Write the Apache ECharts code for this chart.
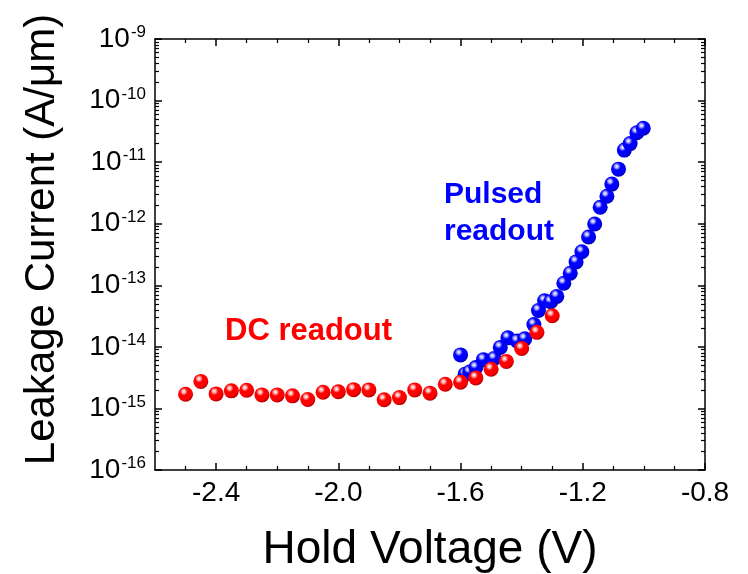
<!DOCTYPE html>
<html><head><meta charset="utf-8">
<script src="https://cdn.jsdelivr.net/npm/echarts@6/dist/echarts.min.js"></script>
<style>html,body{margin:0;padding:0;background:#fff}#c{width:748px;height:574px}</style>
</head><body><div id="c"></div>
<script>
// ---- data ----
const xMajorTicks = [-2.4, -2.0, -1.6, -1.2, -0.8];
const xMinorTicks = [-2.5, -2.3, -2.2, -2.1, -1.9, -1.8, -1.7, -1.5, -1.4, -1.3, -1.1, -1.0, -0.9];
const yDecades = [1e-16, 1e-15, 1e-14, 1e-13, 1e-12, 1e-11, 1e-10, 1e-9];
const yMinorMultipliers = [2, 3, 4, 5, 6, 7, 8, 9];

const dcX = [-2.50, -2.45, -2.40, -2.35, -2.30, -2.25, -2.20, -2.15, -2.10, -2.05, -2.00, -1.95, -1.90,
             -1.85, -1.80, -1.75, -1.70, -1.65, -1.60, -1.55, -1.50, -1.45, -1.40, -1.35, -1.30];
const dcY = [1.7e-15, 2.75e-15, 1.72e-15, 1.93e-15, 1.97e-15, 1.66e-15, 1.66e-15, 1.6e-15, 1.4e-15, 1.83e-15,
             1.87e-15, 2.02e-15, 2.0e-15, 1.38e-15, 1.5e-15, 2.0e-15, 1.77e-15, 2.47e-15, 2.66e-15, 3.13e-15,
             4.33e-15, 5.8e-15, 9.4e-15, 1.72e-14, 3.2e-14];

const pulsedX = [-1.600, -1.585, -1.570, -1.550, -1.525, -1.490, -1.470, -1.445, -1.415, -1.390,
                 -1.360, -1.345, -1.325, -1.305, -1.285, -1.262, -1.241, -1.222, -1.203, -1.181,
                 -1.161, -1.143, -1.121, -1.105, -1.083, -1.064, -1.045, -1.023, -1.002];
const pulsedY = [7.4e-15, 3.6e-15, 3.9e-15, 4.6e-15, 6.2e-15, 6.5e-15, 9.8e-15, 1.4e-14, 1.25e-14, 1.35e-14,
                 2.3e-14, 3.9e-14, 5.6e-14, 5.4e-14, 6.6e-14, 1.08e-13, 1.57e-13, 2.4e-13, 3.5e-13, 6.1e-13,
                 9.9e-13, 1.85e-12, 2.8e-12, 4.4e-12, 7.7e-12, 1.57e-11, 2.0e-11, 3.0e-11, 3.55e-11];

const xTitle = 'Hold Voltage (V)';
const yTitle = 'Leakage Current (A/\u03BCm)';
const pulsedLabel = 'Pulsed\nreadout';
const dcLabel = 'DC readout';

// ---- chart ----
const FONT = '"Liberation Sans", Arial, sans-serif';
const yMinorTicks = [];
yDecades.slice(0, -1).forEach(d => yMinorMultipliers.forEach(m => yMinorTicks.push(m * d)));

function sphere(base, light, dark) {
  return {
    type: 'radial', x: 0.38, y: 0.32, r: 0.68,
    colorStops: [
      { offset: 0, color: '#ffffff' },
      { offset: 0.16, color: light },
      { offset: 0.38, color: base },
      { offset: 0.8, color: base },
      { offset: 1, color: dark }
    ]
  };
}

const axisLine = { show: true, onZero: false, lineStyle: { color: '#000', width: 1.5 } };
const noLine = { show: false, onZero: false };
const majorTick = (vals) => ({ show: true, inside: true, length: 7, lineStyle: { color: '#000', width: 1.5 }, customValues: vals });
const minorTick = (vals) => ({ show: true, inside: true, length: 4, lineStyle: { color: '#000', width: 1.2 }, customValues: vals });

const xBase = { type: 'value', min: -2.6, max: -0.8, splitLine: { show: false } };
const yBase = { type: 'log', logBase: 10, min: 1e-16, max: 1e-9, splitLine: { show: false } };

const option = {
  animation: false,
  backgroundColor: '#fff',
  grid: { left: 155, top: 39, right: 43, bottom: 104, containLabel: false, outerBoundsMode: 'none' },
  xAxis: [
    Object.assign({}, xBase, {
      position: 'bottom', axisLine,
      axisTick: majorTick(xMajorTicks),
      axisLabel: { customValues: xMajorTicks, formatter: v => v.toFixed(1), fontSize: 28, color: '#000', fontFamily: FONT, margin: 9 },
      name: xTitle, nameLocation: 'middle', nameGap: 57,
      nameTextStyle: { fontSize: 46, color: '#000', fontFamily: FONT }
    }),
    Object.assign({}, xBase, { position: 'bottom', axisLine: noLine, axisTick: minorTick(xMinorTicks), axisLabel: { show: false } }),
    Object.assign({}, xBase, { position: 'top', axisLine, axisTick: majorTick(xMajorTicks), axisLabel: { show: false } }),
    Object.assign({}, xBase, { position: 'top', axisLine: noLine, axisTick: minorTick(xMinorTicks), axisLabel: { show: false } })
  ],
  yAxis: [
    Object.assign({}, yBase, {
      position: 'left', axisLine,
      axisTick: { show: true, inside: true, length: 7, lineStyle: { color: '#000', width: 1.5 } },
      axisLabel: {
        margin: 9,
        formatter: v => '{b|10}{s|' + Math.round(Math.log10(v)) + '}',
        rich: {
          b: { fontSize: 28, color: '#000', fontFamily: FONT, lineHeight: 30 },
          s: { fontSize: 17, color: '#000', fontFamily: FONT, verticalAlign: 'top', lineHeight: 17, padding: [0, 0, 0, 1] }
        }
      },
      name: yTitle, nameLocation: 'middle', nameGap: 92, nameRotate: 90,
      nameTextStyle: { fontSize: 42, color: '#000', fontFamily: FONT, padding: [0, 0, 0, 30] }
    }),
    Object.assign({}, yBase, { position: 'left', axisLine: noLine, axisTick: minorTick(yMinorTicks), axisLabel: { show: false } }),
    Object.assign({}, yBase, { position: 'right', axisLine, axisTick: { show: true, inside: true, length: 7, lineStyle: { color: '#000', width: 1.5 } }, axisLabel: { show: false } }),
    Object.assign({}, yBase, { position: 'right', axisLine: noLine, axisTick: minorTick(yMinorTicks), axisLabel: { show: false } })
  ],
  series: [
    {
      name: 'Pulsed readout', type: 'scatter', xAxisIndex: 0, yAxisIndex: 0,
      symbol: 'circle', symbolSize: 15,
      itemStyle: { color: sphere('#0000ff', '#b0b0ff', '#0000b0'), opacity: 1 },
      data: pulsedX.map((x, i) => [x, pulsedY[i]])
    },
    {
      name: 'DC readout', type: 'scatter', xAxisIndex: 0, yAxisIndex: 0,
      symbol: 'circle', symbolSize: 15,
      itemStyle: { color: sphere('#ff0000', '#ffb0b0', '#b00000'), opacity: 1 },
      data: dcX.map((x, i) => [x, dcY[i]])
    }
  ],
  graphic: [
    { type: 'text', left: 444, top: 176, style: { text: pulsedLabel, fill: '#0000ff', font: 'bold 30px ' + FONT, lineHeight: 37 } },
    { type: 'text', left: 225, top: 316, style: { text: dcLabel, fill: '#ff0000', font: 'bold 31px ' + FONT } }
  ]
};

const chart = echarts.init(document.getElementById('c'), null, { renderer: 'canvas' });
chart.setOption(option);
</script>
</body></html>
